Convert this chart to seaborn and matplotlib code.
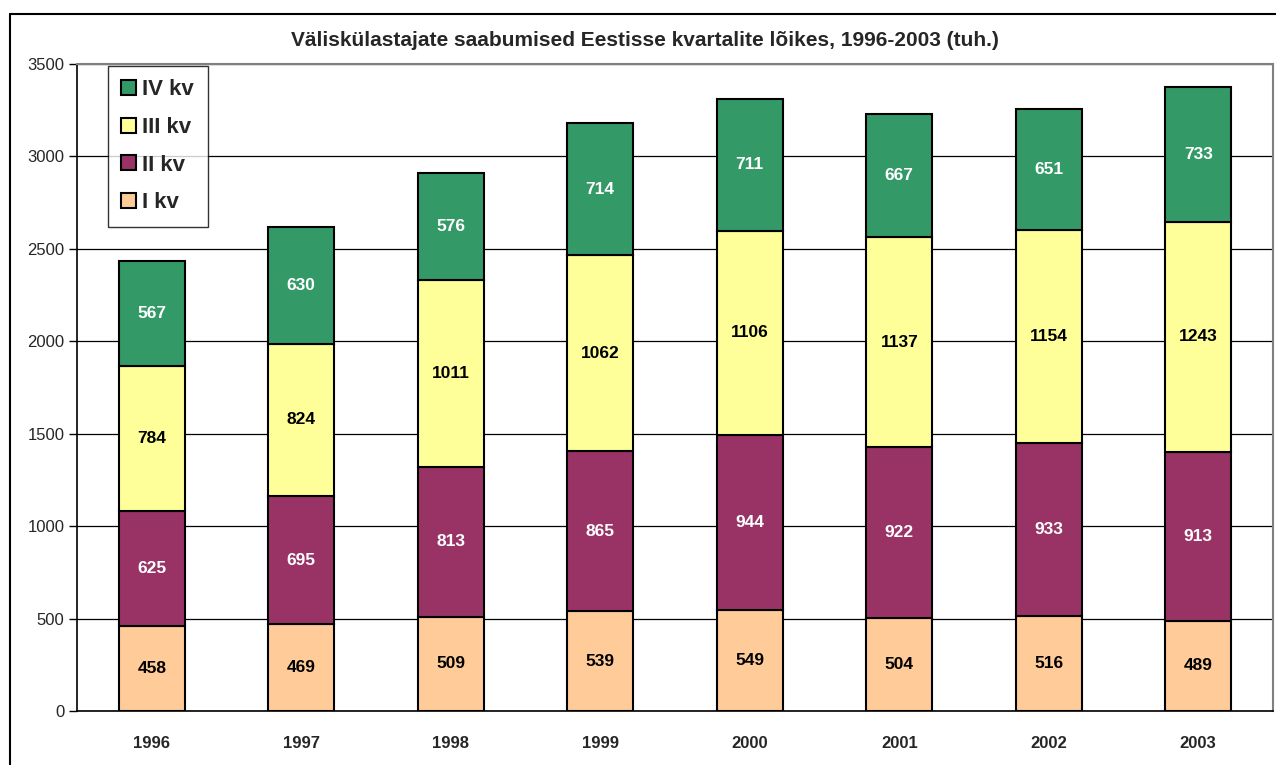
import matplotlib
matplotlib.use("Agg")
import matplotlib.pyplot as plt
from matplotlib.lines import Line2D
from matplotlib.patches import Patch
import seaborn as sns
import numpy as np
import pandas as pd

years = ["1996", "1997", "1998", "1999", "2000", "2001", "2002", "2003"]
q1 = [458, 469, 509, 539, 549, 504, 516, 489]
q2 = [625, 695, 813, 865, 944, 922, 933, 913]
q3 = [784, 824, 1011, 1062, 1106, 1137, 1154, 1243]
q4 = [567, 630, 576, 714, 711, 667, 651, 733]
series_names = ["I kv", "II kv", "III kv", "IV kv"]
series = [q1, q2, q3, q4]
colors = ["#FFCC99", "#993366", "#FFFF99", "#339966"]
label_colors = ["black", "white", "black", "white"]
title = "Väliskülastajate saabumised Eestisse kvartalite lõikes, 1996-2003 (tuh.)"

sns.set_style("white")
plt.rcParams["font.family"] = ["Liberation Sans", "DejaVu Sans"]

fig = plt.figure(figsize=(12.76, 7.65), dpi=100)
ax = fig.add_axes([77/1276, 1-711/765, (1273-77)/1276, (711-64)/765])

bottom = np.zeros(len(years))
for name, vals, col, lc in zip(series_names, series, colors, label_colors):
    df = pd.DataFrame({"year": years, "v": vals})
    sns.barplot(data=df, x="year", y="v", color=col, ax=ax, width=0.44,
                bottom=bottom, edgecolor="black", linewidth=1.5,
                saturation=1, errorbar=None, zorder=3)
    for i, v in enumerate(vals):
        ax.text(i, bottom[i] + v/2, str(v), ha="center", va="center",
                fontsize=12.5, fontweight="bold", color=lc, zorder=4)
    bottom = bottom + np.array(vals)

ax.set_xlim(-0.5, 7.5)
ax.set_ylim(0, 3500)
ax.set_yticks(np.arange(0, 3501, 500))
ax.yaxis.grid(True, color="black", linewidth=0.9, zorder=0)
ax.set_axisbelow(True)
ax.set_xlabel("")
ax.set_ylabel("")
ax.set_xticks(range(len(years)))
ax.set_xticklabels(years, fontsize=12, fontweight="bold")
ax.set_xticks(np.arange(-0.5, 8, 1), minor=True)
ax.tick_params(axis="x", which="major", length=0, pad=18)
ax.tick_params(axis="x", which="minor", length=6, width=1, color="black", direction="out")
ax.tick_params(axis="y", length=6, width=1, color="black", direction="out", labelsize=12, pad=3)
ax.yaxis.set_tick_params(left=True)
for s in ["left", "bottom"]:
    ax.spines[s].set_color("black")
    ax.spines[s].set_linewidth(1.2)
for s in ["top", "right"]:
    ax.spines[s].set_color("#808080")
    ax.spines[s].set_linewidth(1.5)

handles = [Patch(facecolor=c, edgecolor="black", linewidth=1.5) for c in colors[::-1]]
leg = ax.legend(handles, series_names[::-1], loc="upper left",
                bbox_to_anchor=(31/1196, 1 - 2/647), frameon=True, fancybox=False,
                prop={"size": 16, "weight": "bold"}, handlelength=0.65, handleheight=0.65,
                handletextpad=0.3, labelspacing=0.75, borderpad=0.6, borderaxespad=0)
leg.get_frame().set_edgecolor("black")
leg.get_frame().set_linewidth(1.0)
leg.set_zorder(5)

fig.text(645/1276, 1-41/765, title, ha="center", va="center",
         fontsize=15, fontweight="bold")

fig.add_artist(Line2D([10/1276, 10/1276], [0, 1-14/765], color="black", linewidth=1.5, transform=fig.transFigure))
fig.add_artist(Line2D([10/1276, 1], [1-14/765, 1-14/765], color="black", linewidth=1.5, transform=fig.transFigure))

fig.savefig("out.png", dpi=100)
